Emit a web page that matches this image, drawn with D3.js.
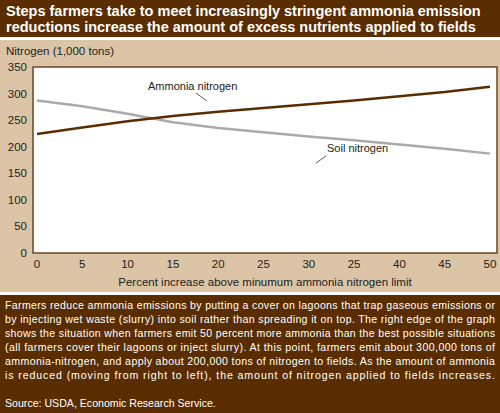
<!DOCTYPE html><html><head><script src="https://cdn.jsdelivr.net/npm/d3@7"></script>
<style>body{margin:0}svg{display:block;font-family:Arial,"Liberation Sans",sans-serif}</style></head><body><svg width="500" height="413"></svg>
<script>
const xTicks=[0,5,10,15,20,25,30,35,40,45,50];
const xTickLabels=["0","5","10","15","20","25","30","25","40","45","50"];
const yTicks=[0,50,100,150,200,250,300,350];
const ammonia=[224,236,248,258,266,273,280,287,295,303,313];
const soil=[287,276,262,246,235,227,219,212,204,196,187];
const svg=d3.select("svg");
const brown="#5a2d00";
svg.append("rect").attr("width",500).attr("height",413).attr("fill","#fff");
svg.append("rect").attr("x",0).attr("y",0).attr("width",500).attr("height",37).attr("fill",brown);
svg.append("text").attr("x",6).attr("y",16).attr("fill","#fff").attr("font-size",14.5).attr("font-weight","bold").text("Steps farmers take to meet increasingly stringent ammonia emission");
svg.append("text").attr("x",6).attr("y",32).attr("fill","#fff").attr("font-size",14.5).attr("font-weight","bold").text("reductions increase the amount of excess nutrients applied to fields");
svg.append("rect").attr("x",0).attr("y",40).attr("width",500).attr("height",252).attr("fill","#dcc5a6");
svg.append("rect").attr("x",0).attr("y",295).attr("width",500).attr("height",118).attr("fill",brown);
svg.append("text").attr("x",6).attr("y",55).attr("font-size",11.5).attr("fill","#222").text("Nitrogen (1,000 tons)");
const x=d3.scaleLinear().domain([0,50]).range([37,490]);
const y=d3.scaleLinear().domain([0,350]).range([253,67]);
svg.append("rect").attr("x",33).attr("y",67).attr("width",464).attr("height",186).attr("fill","#fff").attr("stroke","#6b4423").attr("stroke-width",1.5);
yTicks.forEach(t=>svg.append("text").attr("x",27).attr("y",y(t)+4).attr("text-anchor","end").attr("font-size",11.5).attr("fill","#222").text(t));
xTicks.forEach((t,i)=>svg.append("text").attr("x",x(t)).attr("y",268).attr("text-anchor","middle").attr("font-size",11.5).attr("fill","#222").text(xTickLabels[i]));
svg.append("text").attr("x",265).attr("y",286).attr("text-anchor","middle").attr("font-size",11.5).attr("fill","#222").text("Percent increase above minumum ammonia nitrogen limit");
const line=d3.line().x((d,i)=>x(xTicks[i])).y(d=>y(d));
svg.append("path").attr("d",line(soil)).attr("fill","none").attr("stroke","#aaa").attr("stroke-width",2.5);
svg.append("path").attr("d",line(ammonia)).attr("fill","none").attr("stroke",brown).attr("stroke-width",2.5);
svg.append("text").attr("x",148).attr("y",90).attr("font-size",11).attr("fill","#222").text("Ammonia nitrogen");
svg.append("line").attr("x1",196).attr("y1",93).attr("x2",207).attr("y2",101).attr("stroke","#333").attr("stroke-width",0.8);
svg.append("text").attr("x",327).attr("y",152).attr("font-size",11).attr("fill","#222").text("Soil nitrogen");
svg.append("line").attr("x1",326).attr("y1",156).attr("x2",316).attr("y2",163).attr("stroke","#333").attr("stroke-width",0.8);
const para=["Farmers reduce ammonia emissions by putting a cover on lagoons that trap gaseous emissions or","by injecting wet waste (slurry) into soil rather than spreading it on top.  The right edge of the graph","shows the situation when farmers emit 50 percent more ammonia than the best possible situations","(all farmers cover their lagoons or inject slurry).  At this point, farmers emit about 300,000 tons of","ammonia-nitrogen, and apply about 200,000 tons of nitrogen to fields.  As the amount of ammonia","is reduced (moving from right to left), the amount of nitrogen applied to fields increases.","","Source: USDA, Economic Research Service."];
para.forEach((l,i)=>svg.append("text").attr("x",5).attr("y",309+i*14).attr("font-size",10.6).attr("fill","#fff").attr("textLength",l.length>60?490:null).text(l));
</script></body></html>
